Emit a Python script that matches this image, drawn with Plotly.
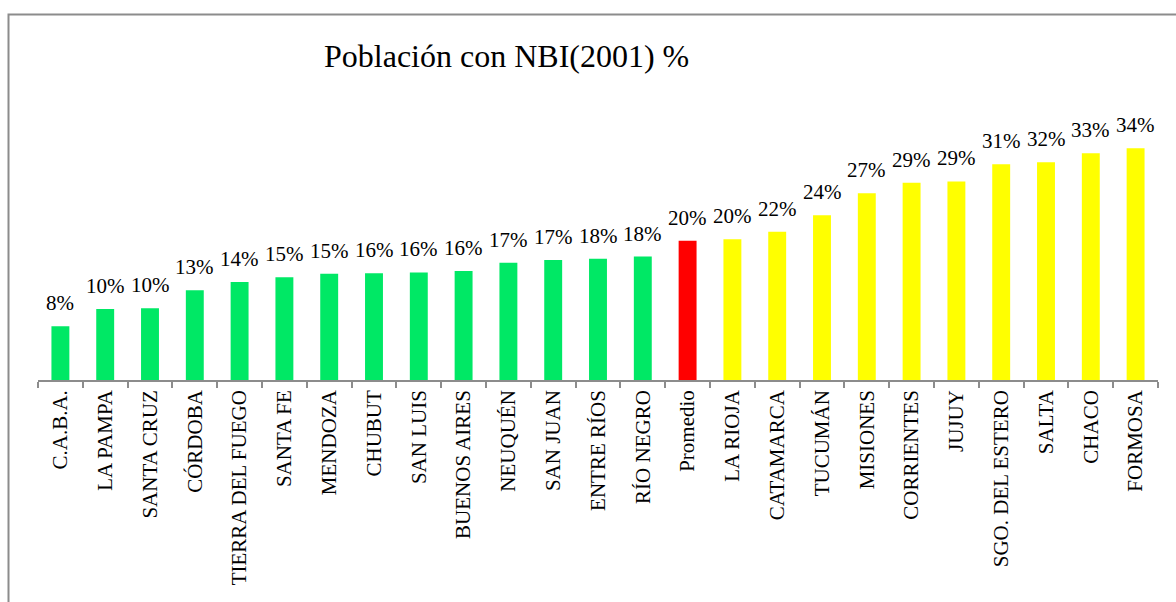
import plotly.graph_objects as go

# Provinces ordered by share of population with unmet basic needs (NBI), 2001
provincias = [
    "C.A.B.A.", "LA PAMPA", "SANTA CRUZ", "CÓRDOBA", "TIERRA DEL FUEGO",
    "SANTA FE", "MENDOZA", "CHUBUT", "SAN LUIS", "BUENOS AIRES",
    "NEUQUÉN", "SAN JUAN", "ENTRE RÍOS", "RÍO NEGRO", "Promedio",
    "LA RIOJA", "CATAMARCA", "TUCUMÁN", "MISIONES", "CORRIENTES",
    "JUJUY", "SGO. DEL ESTERO", "SALTA", "CHACO", "FORMOSA",
]
nbi_pct = [
    7.8, 10.3, 10.4, 13.0, 14.2,
    14.9, 15.4, 15.5, 15.6, 15.8,
    17.0, 17.4, 17.6, 17.9, 20.2,
    20.4, 21.5, 23.9, 27.1, 28.6,
    28.8, 31.3, 31.6, 32.9, 33.6,
]
promedio_label = "Promedio"

W, H = 1176, 602
ML, MR, MT, MB = 38, 18, 118, 222
PW, PH = W - ML - MR, H - MT - MB

GREEN, RED, YELLOW = "#00E865", "#FF0000", "#FFFF00"
idx_prom = provincias.index(promedio_label)
colores = [GREEN if i < idx_prom else RED if i == idx_prom else YELLOW
           for i in range(len(provincias))]

FONT = "Times New Roman, Liberation Serif, DejaVu Serif, serif"

fig = go.Figure(go.Bar(
    x=provincias, y=nbi_pct, marker=dict(color=colores, line=dict(width=0)),
    hoverinfo="x+y",
))

# value labels above each bar
for cat, v in zip(provincias, nbi_pct):
    fig.add_annotation(
        x=cat, y=v, text=f"{v:.0f}%", showarrow=False,
        yanchor="bottom", yshift=9,
        font=dict(family=FONT, size=21, color="#000000"),
    )


def px_x(px):
    return (px - ML) / PW


def px_y(py):
    return (H - MB - py) / PH


# chart title
fig.add_annotation(
    x=px_x(506), y=px_y(56), xref="paper", yref="paper",
    text="Población con NBI(2001) %", showarrow=False,
    xanchor="center", yanchor="middle",
    font=dict(family=FONT, size=32, color="#000000"),
)

# outer chart frame
fig.add_shape(
    type="rect", xref="paper", yref="paper",
    x0=px_x(8.5), x1=px_x(W + 20), y0=px_y(H + 20), y1=px_y(14.5),
    line=dict(color="#8c8c8c", width=2), fillcolor="rgba(0,0,0,0)", layer="below",
)

fig.update_layout(
    width=W, height=H,
    margin=dict(l=ML, r=MR, t=MT, b=MB, pad=0),
    paper_bgcolor="white", plot_bgcolor="white",
    bargap=0.6, showlegend=False,
    font=dict(family=FONT, color="#000000"),
)
fig.update_xaxes(
    tickangle=-90, tickfont=dict(family=FONT, size=21, color="#000000"),
    showline=True, linecolor="#8c8c8c", linewidth=1.5,
    ticks="outside", tickson="boundaries", ticklen=6, tickcolor="#8c8c8c",
    tickwidth=1.5, showgrid=False, zeroline=False,
)
fig.update_yaxes(
    range=[0, 38], visible=False, showgrid=False, zeroline=False,
)

fig.write_html("out.html")
